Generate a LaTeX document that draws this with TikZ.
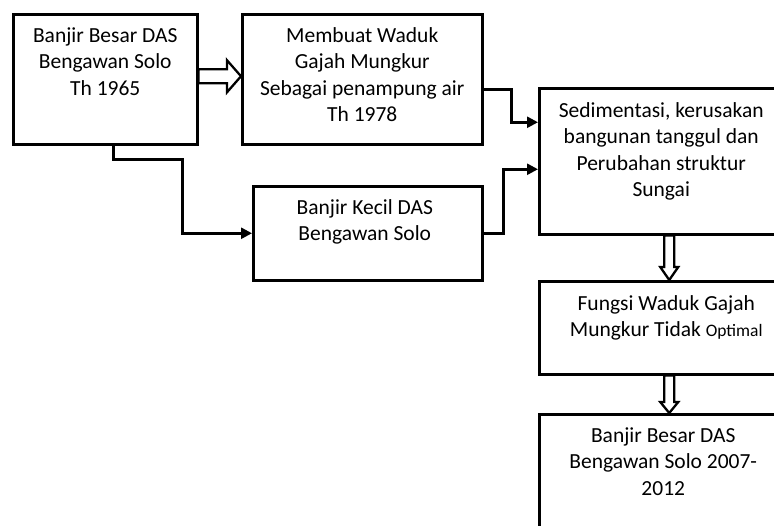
\documentclass[tikz,border=0pt]{standalone}
\usepackage{fontspec}
\setmainfont{Carlito}
\usetikzlibrary{arrows.meta,calc}
\begin{document}
\begin{tikzpicture}[x=1pt,y=-1pt,
  box/.style={draw, line width=2.5pt, inner sep=0pt, anchor=north west},
  txt/.style={anchor=north, align=center, inner sep=0pt, font=\fontsize{21.5}{26.3}\selectfont},
  conn/.style={line width=2.5pt, -{Triangle[length=11pt,width=11pt]}},
  hollow/.style={line width=2.3pt, fill=white, line join=miter}]
\useasboundingbox (0,0) rectangle (774,525);
\clip (0,0) rectangle (774,525);
% boxes
\node[box, minimum width=184pt, minimum height=130pt] (A) at (12,13) {};
\node[box, minimum width=240pt, minimum height=130pt] (B) at (241,13) {};
\node[box, minimum width=244pt, minimum height=146pt] (C) at (538,87) {};
\node[box, minimum width=229pt, minimum height=94pt] (D) at (252,185) {};
\node[box, minimum width=254pt, minimum height=93pt] (E) at (538,280) {};
\node[box, minimum width=248pt, minimum height=140pt] (F) at (538,413) {};
% texts
\node[txt] (tA) at ($(A.north)+(0,11)$) {\strut Banjir Besar DAS\\Bengawan Solo\\Th 1965};
\node[txt] (tB) at ($(B.north)+(0,11)$) {\strut Membuat Waduk\\Gajah Mungkur\\Sebagai penampung air\\Th 1978};
\node[txt] (tC) at ($(C.north)+(0,12)$) {\strut Sedimentasi, kerusakan\\bangunan tanggul dan\\Perubahan struktur\\Sungai};
\node[txt] (tD) at ($(D.north)+(-3,11)$) {\strut Banjir Kecil DAS\\Bengawan Solo};
\node[txt] (tE) at ($(E.north)+(0,12)$) {\strut Fungsi Waduk Gajah\\Mungkur Tidak {\fontsize{17.5}{21}\selectfont Optimal}};
\node[txt] (tF) at ($(F.north)+(0,11)$) {\strut Banjir Besar DAS\\Bengawan Solo 2007-\\2012};
% hollow block arrows
\draw[hollow] ($(A.east)+(0,-10)$) -- ($(B.west)+(-14,-10)$) -- ($(B.west)+(-14,-19)$)
  -- ($(B.west)+(0,-3)$) -- ($(B.west)+(-14,13)$) -- ($(B.west)+(-14,4)$)
  -- ($(A.east)+(0,4)$) -- cycle;
\draw[hollow] ($(C.south)+(3,0)$) -- ($(E.north)+(-2,-13)$) -- ($(E.north)+(-6,-13)$)
  -- ($(E.north)+(3,0)$) -- ($(E.north)+(12,-13)$) -- ($(E.north)+(8,-13)$)
  -- ($(C.south)+(13,0)$) -- cycle;
\draw[hollow] ($(E.south)+(-2,0)$) -- ($(F.north)+(1,-11)$) -- ($(F.north)+(-3,-11)$)
  -- ($(F.north)+(6,0)$) -- ($(F.north)+(15,-11)$) -- ($(F.north)+(11,-11)$)
  -- ($(E.south)+(8,0)$) -- cycle;
% connectors
\draw[conn] ($(B.east)+(0,10)$) -- ++(28,0) |- ($(C.west)+(0,-39)$);
\draw[conn] (D.east) -- ++(20,0) |- ($(C.west)+(0,8)$);
\draw[conn] ($(A.south)+(8,0)$) -- ++(0,14) -- ++(69,0) |- (D.west);
\end{tikzpicture}
\end{document}
